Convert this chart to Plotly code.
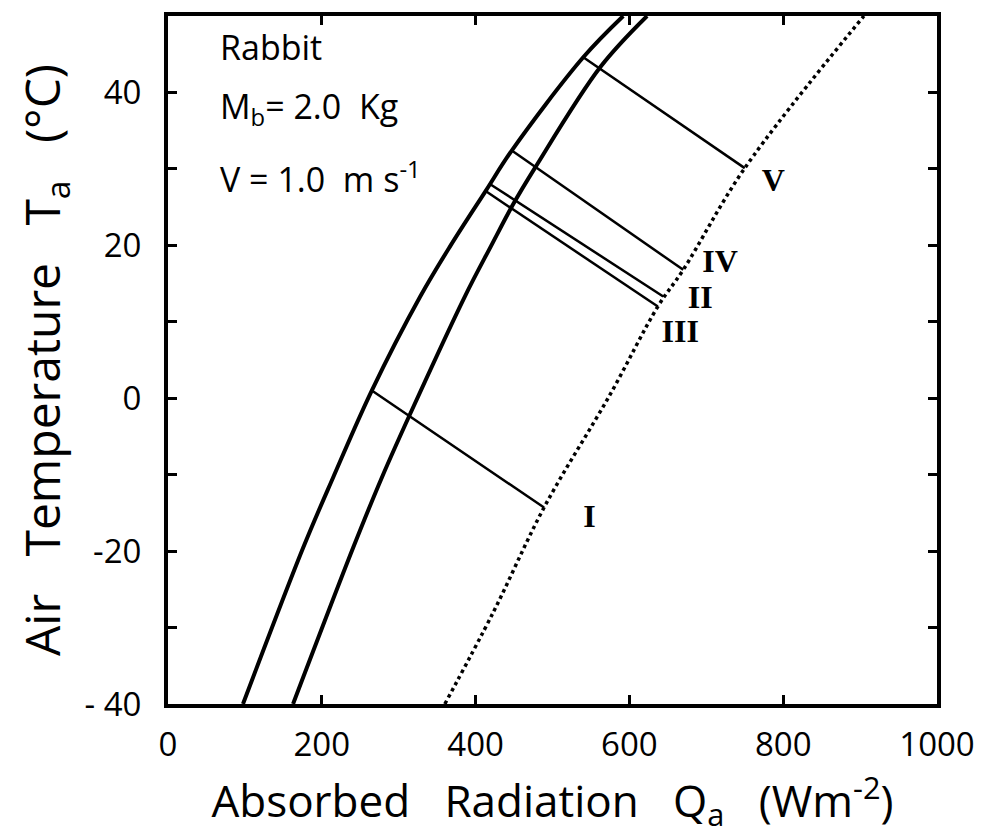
import plotly.graph_objects as go

# Absorbed radiation (W m^-2) vs air temperature (deg C) for the two solid limit curves
outer_ta = [-40, -19.6, -10.4, 1.0, 13.3, 19.9, 27.1, 32.4, 44.6, 50]
outer_qa = [97.5, 175.6, 214.6, 265, 328, 367, 413, 447, 540, 592]

inner_ta = [-40, -19.6, -10.4, -2.1, 13.3, 19.9, 25.4, 30.1, 43.3, 50]
inner_qa = [162.6, 240.6, 278, 314.7, 386, 420, 449, 477, 562, 623]

# Dotted upper limit curve
upper_ta = [-40, -28, -14.3, 0.5, 12.0, 16.8, 30.1, 50]
upper_qa = [360, 423, 489, 575, 637, 670, 750, 905]

# Tie lines I-V: (Qa, Ta) at the outer curve and at the dotted curve
tie_names = ["I", "III", "II", "IV", "V"]
tie_start_qa = [265, 413, 419, 447, 540]
tie_start_ta = [1.0, 27.1, 28.0, 32.4, 44.6]
tie_end_qa = [489, 637, 644, 670, 750]
tie_end_ta = [-14.3, 12.0, 13.3, 16.8, 30.1]

# Roman numeral label positions
label_qa = [548, 666, 692, 718, 787]
label_ta = [-15.8, 8.4, 12.9, 17.6, 28.1]

x_ticks = [0, 200, 400, 600, 800, 1000]
x_ticktext = ["0", "200", "400", "600", "800", "1000"]
y_ticks = [-40, -30, -20, -10, 0, 10, 20, 30, 40, 50]
y_ticktext = ["- 40", "", "-20", "", "0", "", "20", "", "40", ""]

FONT = "Open Sans"
INK = "black"

fig = go.Figure()

fig.add_trace(go.Scatter(x=outer_qa, y=outer_ta, mode="lines",
                         line=dict(color=INK, width=4, shape="spline", smoothing=1.0),
                         showlegend=False, hoverinfo="skip"))
fig.add_trace(go.Scatter(x=inner_qa, y=inner_ta, mode="lines",
                         line=dict(color=INK, width=4, shape="spline", smoothing=1.0),
                         showlegend=False, hoverinfo="skip"))
fig.add_trace(go.Scatter(x=upper_qa, y=upper_ta, mode="lines",
                         line=dict(color=INK, width=3.5, dash="dot", shape="spline", smoothing=1.0),
                         showlegend=False, hoverinfo="skip"))

for x0, y0, x1, y1 in zip(tie_start_qa, tie_start_ta, tie_end_qa, tie_end_ta):
    fig.add_trace(go.Scatter(x=[x0, x1], y=[y0, y1], mode="lines",
                             line=dict(color=INK, width=2.5),
                             showlegend=False, hoverinfo="skip"))

fig.add_trace(go.Scatter(x=label_qa, y=label_ta, mode="text",
                         text=["<b>%s</b>" % t for t in tie_names],
                         textfont=dict(family="Liberation Serif", size=32, color=INK),
                         textposition="middle center",
                         showlegend=False, hoverinfo="skip"))

# Animal and wind speed note
notes = ["Rabbit", "M<sub>b</sub>= 2.0  Kg", "V = 1.0  m s<sup>-1</sup>"]
note_ta = [45.9, 38.0, 28.9]
for txt, ta in zip(notes, note_ta):
    fig.add_annotation(x=65, y=ta, text=txt, showarrow=False, xanchor="left",
                       yanchor="middle", font=dict(family=FONT, size=34, color=INK))

fig.update_xaxes(range=[0, 1000], tickvals=x_ticks, ticktext=x_ticktext,
                 showline=True, linewidth=4, linecolor=INK, mirror="allticks",
                 ticks="inside", ticklen=9, tickwidth=3, tickcolor=INK,
                 showgrid=False, zeroline=False, ticklabelstandoff=8,
                 tickfont=dict(family=FONT, size=33, color=INK),
                 title=dict(text="Absorbed   Radiation   Q<sub>a</sub>   (Wm<sup>-2</sup>)",
                            font=dict(family=FONT, size=44, color=INK), standoff=6))
fig.update_yaxes(range=[-40, 50], tickvals=y_ticks, ticktext=y_ticktext,
                 showline=True, linewidth=4, linecolor=INK, mirror="allticks",
                 ticks="inside", ticklen=9, tickwidth=3, tickcolor=INK,
                 showgrid=False, zeroline=False, ticklabelstandoff=16,
                 tickfont=dict(family=FONT, size=33, color=INK),
                 title=dict(text="Air   Temperature   T<sub>a</sub>   (°C)",
                            font=dict(family=FONT, size=48, color=INK), standoff=10))

fig.update_layout(width=986, height=836, plot_bgcolor="white", paper_bgcolor="white",
                  margin=dict(l=168, r=49, t=16, b=132, autoexpand=False))

fig.write_html("out.html")
